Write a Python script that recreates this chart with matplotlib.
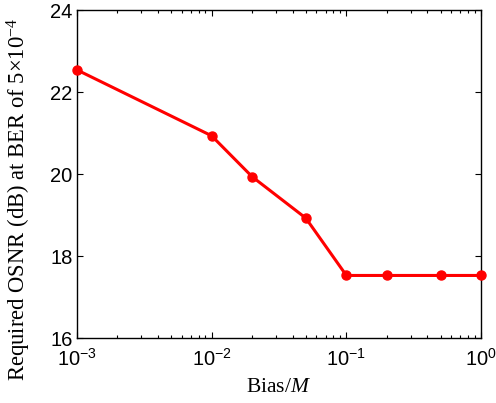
import matplotlib
matplotlib.use("Agg")
import matplotlib.pyplot as plt
import numpy as np

plt.rcParams['mathtext.fontset'] = 'custom'
plt.rcParams['mathtext.it'] = 'Liberation Serif:italic'
plt.rcParams['mathtext.rm'] = 'Liberation Serif'

# values
bias = [1e-3, 1e-2, 2e-2, 5e-2, 1e-1, 2e-1, 5e-1, 1e0]
osnr = [22.55, 20.94, 19.94, 18.93, 17.53, 17.53, 17.53, 17.53]
y_ticks = [16, 18, 20, 22, 24]

fig = plt.figure(figsize=(4.96, 4.03), dpi=100)
ax = fig.add_axes([0.155, 0.161, 0.815, 0.813])

ax.plot(bias, osnr, color='#ff0000', linewidth=2.2, marker='o',
        markersize=6.5, clip_on=False, zorder=3)

ax.set_xscale('log')
ax.set_xlim(1e-3, 1e0)
ax.set_ylim(16, 24)
ax.set_yticks(y_ticks)

for lab in ax.get_xticklabels() + ax.get_yticklabels():
    lab.set_fontfamily('Liberation Sans')
    lab.set_fontsize(14.5)

ax.tick_params(which='both', direction='in', top=True, right=True)
ax.tick_params(which='major', length=4, width=0.8, pad=3)
ax.tick_params(axis='x', which='major', pad=7)
ax.tick_params(which='minor', length=2.5, width=0.8)
for sp in ax.spines.values():
    sp.set_linewidth(1.0)

ax.set_xlabel('Bias/$\\mathit{M}$', family='Liberation Serif', fontsize=15.5,
              labelpad=6)
ax.set_ylabel('Required OSNR (dB) at BER of 5\u00d710$^{\\mathdefault{-4}}$',
              family='Liberation Serif', fontsize=16.3)
# label sits a bit below the axes centre in the reference
ax.yaxis.set_label_coords(-0.108, 0.425)

fig.savefig('out.png', dpi=100)
